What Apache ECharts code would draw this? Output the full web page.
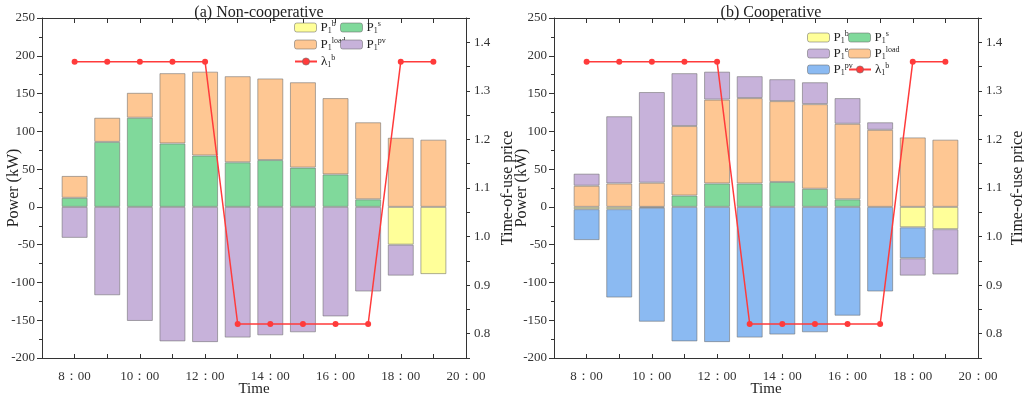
<!DOCTYPE html>
<html><head><meta charset="utf-8">
<script src="https://cdn.jsdelivr.net/npm/echarts@6/dist/echarts.min.js"></script>
<style>html,body{margin:0;padding:0;background:#fff}#c{width:1024px;height:396px}</style>
</head><body><div id="c"></div>
<script>
// Categories (hours); first and last are axis ends without data
var categories = ['7：00','8：00','9：00','10：00','11：00','12：00','13：00','14：00','15：00','16：00','17：00','18：00','19：00','20：00'];

// (a) Non-cooperative
var a_Pb    = [null,null,null,null,null,null,null,null,null,null,null,-50,-89,null];
var a_Ps    = [null,12,86,118,84,68,59,62,52,43,10,null,null,null];
var a_Pload = [null,29,32,33,93,111,114,108,113,101,102,91.5,89,null];
var a_Ppv   = [null,-41,-117,-151,-178,-179,-173,-170,-166,-145,-112,-41,null,null];
var a_price = [null,1.36,1.36,1.36,1.36,1.36,0.82,0.82,0.82,0.82,0.82,1.36,1.36,null];

// (b) Cooperative
var b_Pb    = [null,-3,-3,-1,null,null,null,null,null,null,null,-27,-29.5,null];
var b_Ps    = [null,null,null,null,15,31,31,33,24,10,null,null,null,null];
var b_Pload = [null,28,31,32,92,111,113,107,112,100,102,92,89,null];
var b_Ppv   = [null,-41,-117,-151,-178,-179,-173,-169,-166,-144,-112,-41,null,null];
var b_Pe    = [null,16,89,120,70,37,29,29,29,34,10,-23,-60,null];
var b_price = [null,1.36,1.36,1.36,1.36,1.36,0.82,0.82,0.82,0.82,0.82,1.36,1.36,null];

var powerTicks = {min:-200, max:250, interval:50};
var priceTicks = {min:0.75, max:1.45, interval:0.05};

var C = {b:'#FFFF99', s:'#80D99B', load:'#FEC793', pv:'#C7B2DA', blue:'#8BBAF2', red:'#FF3B3B'};
var SERIF = '"Liberation Serif","DejaVu Serif",serif';
var labelsMap = {
  a_Pb:['b','1'], a_Ps:['s','1'], a_Pload:['load','1'], a_Ppv:['pv','1'], a_price:['b','1','λ'],
  b_Pb:['b','1'], b_Ps:['s','1'], b_Pload:['load','1'], b_Ppv:['pv','1'], b_Pe:['e','1'], b_price:['b','1','λ']
};
var rich = {
  p:{fontSize:13, fontFamily:SERIF, color:'#222', lineHeight:15, verticalAlign:'middle'},
  sub:{fontSize:8, fontFamily:SERIF, color:'#222', lineHeight:8, verticalAlign:'bottom'},
  sup:{fontSize:8, fontFamily:SERIF, color:'#222', lineHeight:8, verticalAlign:'top'}
};
function fmt(name){
  var l = labelsMap[name];
  return '{p|' + (l[2]||'P') + '}{sub|' + l[1] + '}{sup|' + l[0] + '}';
}
var border = {borderColor:'rgba(105,105,105,0.55)', borderWidth:1};

function bar(name, data, color, gi){
  return {name:name, type:'bar', stack:'s'+gi, data:data, xAxisIndex:gi*2, yAxisIndex:gi*2,
    barWidth:26, itemStyle:Object.assign({color:color}, border), emphasis:{disabled:true}};
}
function line(name, data, gi){
  return {name:name, type:'line', data:data, xAxisIndex:gi*2, yAxisIndex:gi*2+1,
    symbol:'circle', symbolSize:6, z:10,
    lineStyle:{color:C.red, width:1.5}, itemStyle:{color:C.red}, emphasis:{disabled:true}};
}
function xAxes(gi){
  return [{
    type:'category', gridIndex:gi, data:categories, boundaryGap:false, position:'bottom',
    name:'Time', nameLocation:'middle', nameGap:24, nameMoveOverlap:false,
    nameTextStyle:{fontFamily:SERIF, fontSize:15, color:'#222'},
    axisLine:{onZero:false, lineStyle:{color:'#333', width:1}},
    axisTick:{show:true, inside:true, length:4, interval:0, lineStyle:{color:'#333'}},
    axisLabel:{interval:function(i){return i%2===1;}, fontFamily:SERIF, fontSize:13, color:'#333', margin:12}
  },{
    type:'category', gridIndex:gi, data:categories, boundaryGap:false, position:'top',
    axisLine:{onZero:false, lineStyle:{color:'#333', width:1}},
    axisTick:{show:true, inside:true, length:5, interval:0, lineStyle:{color:'#333'}},
    axisLabel:{show:false}
  }];
}
function yAxes(gi, powerGap, priceGap){
  return [{
    type:'value', gridIndex:gi, position:'left', min:powerTicks.min, max:powerTicks.max, interval:powerTicks.interval,
    name:'Power (kW)', nameLocation:'middle', nameGap:powerGap, nameMoveOverlap:false,
    nameTextStyle:{fontFamily:SERIF, fontSize:16, color:'#222'},
    axisLine:{show:true, onZero:false, lineStyle:{color:'#333', width:1}},
    axisTick:{show:true, length:5, lineStyle:{color:'#333'}},
    minorTick:{show:true, splitNumber:2, length:3, lineStyle:{color:'#333'}},
    splitLine:{show:false},
    axisLabel:{fontFamily:SERIF, fontSize:13, color:'#333', margin:7}
  },{
    type:'value', gridIndex:gi, position:'right', min:priceTicks.min, max:priceTicks.max, interval:priceTicks.interval,
    name:'Time-of-use price', nameLocation:'middle', nameGap:priceGap, nameMoveOverlap:false,
    nameTextStyle:{fontFamily:SERIF, fontSize:16, color:'#222'},
    axisLine:{show:true, onZero:false, lineStyle:{color:'#333', width:1}},
    axisTick:{show:true, length:4, lineStyle:{color:'#333'}},
    splitLine:{show:false},
    axisLabel:{fontFamily:SERIF, fontSize:13, color:'#333', margin:8,
      formatter:function(v){ var t=v*10; return Math.abs(t-Math.round(t))<1e-6 ? v.toFixed(1) : ''; }}
  }];
}
function leg(name, left, top){
  return {data:[name], left:left, top:top, itemWidth:22, itemHeight:9, itemGap:0,
    formatter:fmt, textStyle:{rich:rich, padding:[0,0,0,-1]}, selectedMode:false,
    itemStyle:{borderColor:'rgba(105,105,105,0.55)', borderWidth:1}};
}

var option = {
  animation:false,
  title:[
    {text:'(a) Non-cooperative', left:254, top:0, textAlign:'center', textStyle:{fontFamily:SERIF, fontSize:16, fontWeight:'normal', color:'#222'}},
    {text:'(b) Cooperative', left:766, top:0, textAlign:'center', textStyle:{fontFamily:SERIF, fontSize:16, fontWeight:'normal', color:'#222'}}
  ],
  grid:[
    {left:42, top:18, width:424, height:340, containLabel:false, outerBoundsMode:'none'},
    {left:554, top:18, width:424, height:340, containLabel:false, outerBoundsMode:'none'}
  ],
  legend:[
    leg('a_Pb', 289, 15), leg('a_Ps', 335, 15),
    leg('a_Pload', 289, 32), leg('a_Ppv', 335, 32),
    leg('a_price', 289, 49),
    leg('b_Pb', 802, 25), leg('b_Ps', 843, 25),
    leg('b_Pe', 802, 41), leg('b_Pload', 843, 41),
    leg('b_Ppv', 802, 57), leg('b_price', 843, 57)
  ],
  xAxis: xAxes(0).concat(xAxes(1)),
  yAxis: yAxes(0, 20, 34).concat(yAxes(1, 24, 32)),
  series:[
    bar('a_Pb', a_Pb, C.b, 0), bar('a_Ps', a_Ps, C.s, 0), bar('a_Pload', a_Pload, C.load, 0), bar('a_Ppv', a_Ppv, C.pv, 0),
    line('a_price', a_price, 0),
    bar('b_Pb', b_Pb, C.b, 1), bar('b_Ps', b_Ps, C.s, 1), bar('b_Pload', b_Pload, C.load, 1), bar('b_Ppv', b_Ppv, C.blue, 1), bar('b_Pe', b_Pe, C.pv, 1),
    line('b_price', b_price, 1)
  ]
};
var chart = echarts.init(document.getElementById('c'), null, {renderer:'canvas'});
chart.setOption(option);
</script></body></html>
